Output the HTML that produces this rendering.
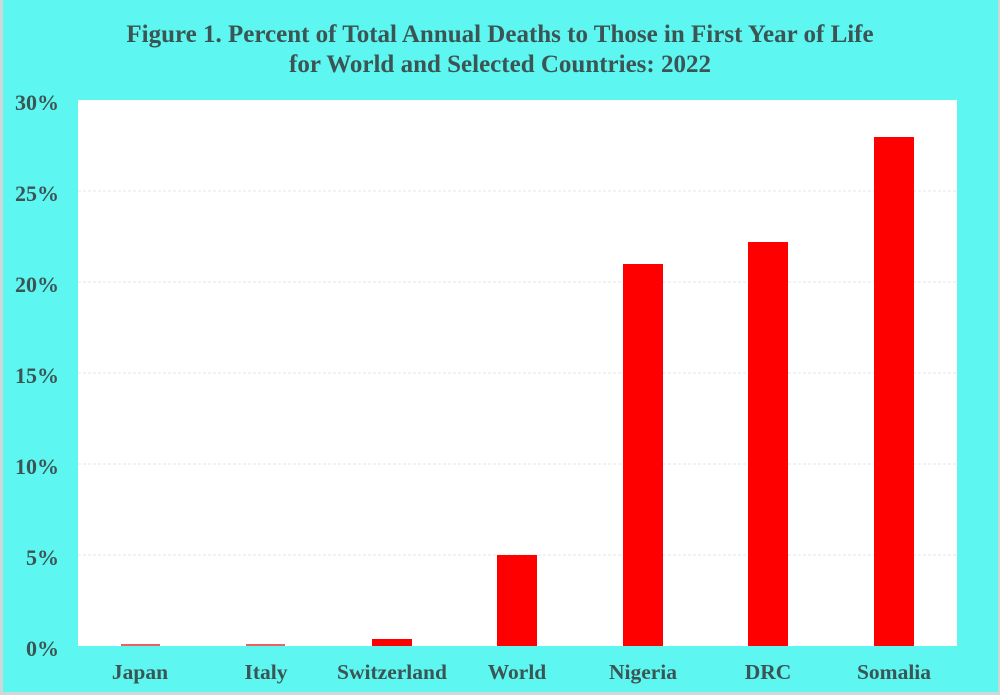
<!DOCTYPE html>
<html><head><style>
body{margin:0;}
svg{display:block;}
text{font-family:"Liberation Serif",serif;font-weight:bold;fill:#3b5555;}
</style></head><body>
<svg width="1000" height="695" viewBox="0 0 1000 695">
<rect x="0" y="0" width="1000" height="695" fill="#cfd8d8"/>
<rect x="3" y="0" width="995" height="692" fill="#5ef6f0"/>
<text x="500" y="42" font-size="25" text-anchor="middle">Figure 1. Percent of Total Annual Deaths to Those in First Year of Life</text>
<text x="500" y="72" font-size="25" text-anchor="middle">for World and Selected Countries: 2022</text>
<rect x="78" y="100" width="879" height="546" fill="#fff"/>
<g stroke="#e4e4e4" stroke-width="1" stroke-dasharray="3,2">
<line x1="78" x2="957" y1="191" y2="191"/>
<line x1="78" x2="957" y1="282" y2="282"/>
<line x1="78" x2="957" y1="373" y2="373"/>
<line x1="78" x2="957" y1="464" y2="464"/>
<line x1="78" x2="957" y1="555" y2="555"/>
</g>
<g font-size="22" text-anchor="end">
<text x="59" y="110">30%</text>
<text x="59" y="201">25%</text>
<text x="59" y="292">20%</text>
<text x="59" y="383">15%</text>
<text x="59" y="474">10%</text>
<text x="59" y="565">5%</text>
<text x="59" y="656">0%</text>
</g>
<g fill="#ff0000">
<rect x="121" y="644" width="39" height="2" fill="#f06060"/>
<rect x="246" y="644" width="39" height="2" fill="#f06060"/>
<rect x="372" y="639" width="40" height="7"/>
<rect x="497" y="555" width="40" height="91"/>
<rect x="623" y="264" width="40" height="382"/>
<rect x="748" y="242" width="40" height="404"/>
<rect x="874" y="137" width="40" height="509"/>
</g>
<g font-size="21.5" text-anchor="middle">
<text x="140" y="679">Japan</text>
<text x="266" y="679">Italy</text>
<text x="392" y="679">Switzerland</text>
<text x="517" y="679">World</text>
<text x="643" y="679">Nigeria</text>
<text x="768" y="679">DRC</text>
<text x="894" y="679">Somalia</text>
</g>
</svg>
</body></html>
